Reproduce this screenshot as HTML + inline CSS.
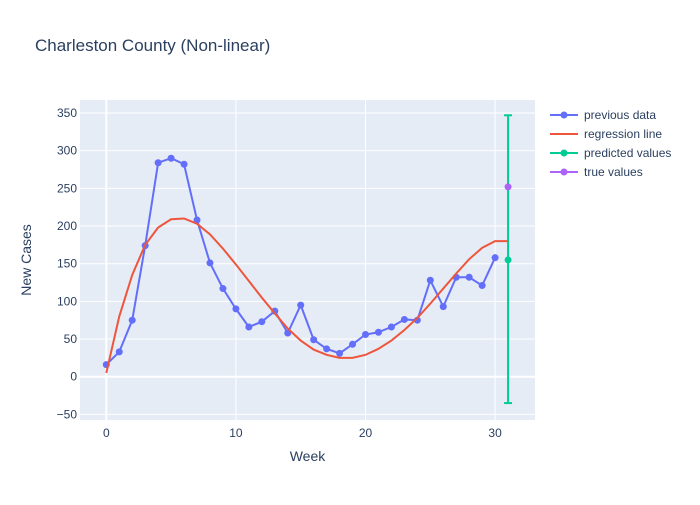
<!DOCTYPE html>
<html><head><meta charset="utf-8"><style>
body{margin:0;background:#fff;font-family:"Liberation Sans",Arial,sans-serif}
text{font-family:"Liberation Sans",Arial,sans-serif;fill:#2a3f5f}
</style></head><body>
<svg id="chart" width="700" height="500" xmlns="http://www.w3.org/2000/svg">
<rect width="700" height="500" fill="#fff"/>
<text x="35" y="51" font-size="17">Charleston County (Non-linear)</text>
<rect x="80" y="100" width="455" height="320" fill="#e5ecf6"/>
<g id="grid"></g><g id="marks"></g><g id="ticks"></g>
<text x="307.5" y="461" font-size="14" text-anchor="middle">Week</text>
<text transform="translate(31,260) rotate(-90)" font-size="14" text-anchor="middle">New Cases</text>
<g id="legend"></g>
</svg>
<script>
const weeks=[0,1,2,3,4,5,6,7,8,9,10,11,12,13,14,15,16,17,18,19,20,21,22,23,24,25,26,27,28,29,30];
const previousData=[16,33,75,174,284,290,282,208,151,117,90,66,73,87,58,95,49,37,31,43,56,59,66,76,75,128,93,132,132,121,158];
const regWeeks=[0,1,2,3,4,5,6,7,8,9,10,11,12,13,14,15,16,17,18,19,20,21,22,23,24,25,26,27,28,29,30,31];
const regression=[5,80,135,175,198,209,210,203,189,170,149,127,105,84,64,48,36,29,25,25,29,37,48,62,78,97,117,137,156,171,180,180];
const predWeek=[31];const predicted=[155];const predUpper=[347];const predLower=[-35];
const trueValues=[252];
const xTicks=[0,10,20,30];const yTicks=[-50,0,50,100,150,200,250,300,350];
const NS="http://www.w3.org/2000/svg";
const X=v=>106.3+(v)*12.96;const Y=v=>376.7-v*0.7534;
function mk(t,a,p){const e=document.createElementNS(NS,t);for(const k in a)e.setAttribute(k,a[k]);p.appendChild(e);return e;}
const grid=document.getElementById('grid'),marks=document.getElementById('marks'),ticks=document.getElementById('ticks'),leg=document.getElementById('legend');
yTicks.forEach(v=>{const l=mk('line',{x1:80,x2:535,y1:Y(v),y2:Y(v),stroke:'#fff','stroke-width':v===0?2:1},grid);


const t=mk('text',{x:77,y:Y(v)+4,'font-size':12,'text-anchor':'end'},ticks);t.textContent=v===-50?'−50':v;

});
xTicks.forEach(v=>{const l=mk('line',{x1:X(v),x2:X(v),y1:100,y2:420,stroke:'#fff','stroke-width':v===0?2:1},grid);


const t=mk('text',{x:X(v),y:437,'font-size':12,'text-anchor':'middle'},ticks);t.textContent=v;

});
const eb=mk('g',{stroke:'#00cc96','stroke-width':2},marks);


const ex=X(predWeek[0]);
mk('line',{x1:ex,x2:ex,y1:Y(predUpper[0]),y2:Y(predLower[0])},eb);
mk('line',{x1:ex-4,x2:ex+4,y1:Y(predUpper[0]),y2:Y(predUpper[0])},eb);
mk('line',{x1:ex-4,x2:ex+4,y1:Y(predLower[0]),y2:Y(predLower[0])},eb);
const pl=mk('polyline',{points:weeks.map((w,i)=>X(w)+','+Y(previousData[i])).join(' '),fill:'none',stroke:'#636efa','stroke-width':2},marks);


weeks.forEach((w,i)=>{const c=mk('circle',{cx:X(w),cy:Y(previousData[i]),r:3.5,fill:'#636efa'},marks);

});
const rl=mk('polyline',{points:regWeeks.map((w,i)=>X(w)+','+Y(regression[i])).join(' '),fill:'none',stroke:'#ef553b','stroke-width':2},marks);


const pc=mk('circle',{cx:ex,cy:Y(predicted[0]),r:3.5,fill:'#00cc96'},marks);


const tc=mk('circle',{cx:ex,cy:Y(trueValues[0]),r:3.5,fill:'#ab63fa'},marks);


const items=[['previous data','#636efa',true],['regression line','#ef553b',false],['predicted values','#00cc96',true],['true values','#ab63fa',true]];
items.forEach((it,i)=>{const y=115+i*19;const g=mk('g',{},leg);


mk('line',{x1:550,x2:578,y1:y,y2:y,stroke:it[1],'stroke-width':2},g);
if(it[2])mk('circle',{cx:564,cy:y,r:3.5,fill:it[1]},g);
const t=mk('text',{x:584,y:y+4,'font-size':12},g);t.textContent=it[0];});
</script>
</body></html>
